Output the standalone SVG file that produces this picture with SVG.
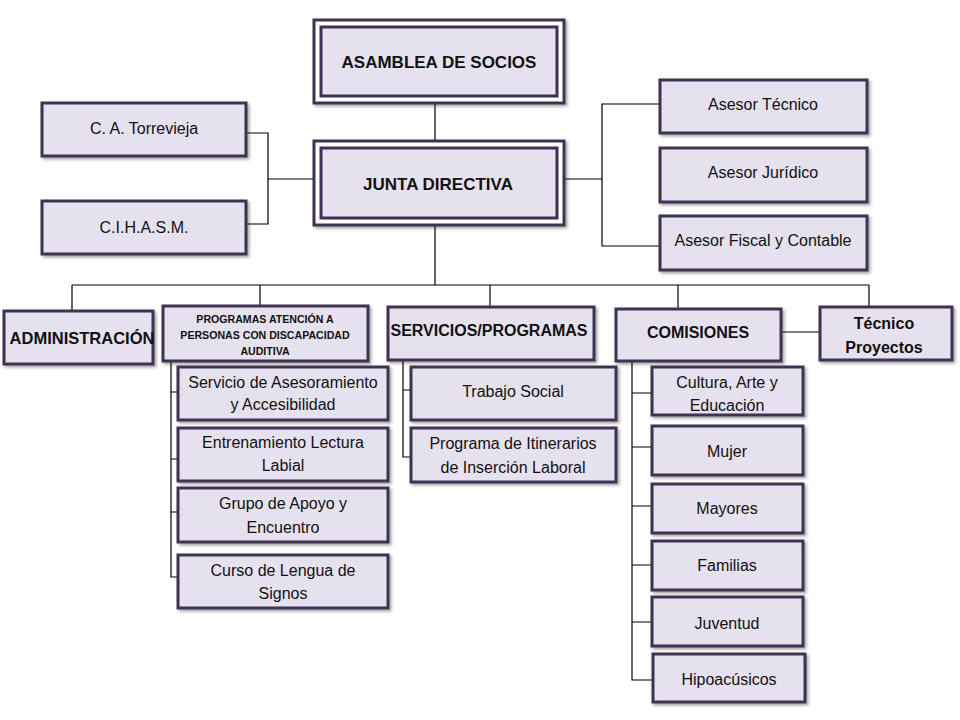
<svg xmlns="http://www.w3.org/2000/svg" width="960" height="720" viewBox="0 0 960 720">
<defs>
<filter id="sh" x="-10%" y="-10%" width="130%" height="140%">
<feDropShadow dx="2" dy="2" stdDeviation="1.5" flood-color="#000" flood-opacity="0.35"/>
</filter>
<style>
.b{fill:#E6E1EF;stroke:#3F3151;stroke-width:3;filter:url(#sh)}
.o{fill:#fff;stroke:#3F3151;stroke-width:3;filter:url(#sh)}
.i{fill:#E6E1EF;stroke:#3F3151;stroke-width:3}
.c{fill:none;stroke:#000;stroke-width:1.2}
text{font-family:"Liberation Sans",Arial,sans-serif;fill:#111;text-anchor:middle}
.t{font-size:16px}
.h{font-size:17px;font-weight:bold}
.hb{font-size:16px;font-weight:bold}
.ad{font-size:16.5px;font-weight:bold}
.s{font-size:10.6px;font-weight:bold}
</style>
</defs>
<rect width="960" height="720" fill="#fff"/>
<g id="connectors">
<path class="c" d="M435 104V141M435 225V285M72 285H869M72 285V311M260 285V306M490 285V307M678 285V309M869 285V307"/>
<path class="c" d="M247 133H268V224H247M268 179H314"/>
<path class="c" d="M565 179H602M660 104H602V246H660"/>
<path class="c" d="M781 332H820"/>
<path class="c" d="M171 361V577H178M171 392H178M171 459H178M171 512H178"/>
<path class="c" d="M403 360V457H411M403 390H411"/>
<path class="c" d="M632 361V680H653M632 393H652M632 447H652M632 506H652M632 565H652M632 622H652"/>
</g>
<g id="asamblea"><rect class="o" x="314" y="20" width="250" height="83"/><rect class="i" x="321" y="27" width="236" height="69"/><text class="h" x="439" y="68">ASAMBLEA DE SOCIOS</text></g>
<g id="junta"><rect class="o" x="314" y="141" width="250" height="84"/><rect class="i" x="321" y="148" width="236" height="70"/><text class="h" x="438" y="190">JUNTA DIRECTIVA</text></g>
<g id="torrevieja"><rect class="b" x="42" y="103" width="204" height="53"/><text class="t" x="144" y="134">C. A. Torrevieja</text></g>
<g id="cihasm"><rect class="b" x="42" y="201" width="204" height="53"/><text class="t" x="144" y="233">C.I.H.A.S.M.</text></g>
<g id="asesor-tecnico"><rect class="b" x="660" y="80" width="207" height="53"/><text class="t" x="763" y="110">Asesor Técnico</text></g>
<g id="asesor-juridico"><rect class="b" x="660" y="148" width="207" height="54"/><text class="t" x="763" y="178">Asesor Jurídico</text></g>
<g id="asesor-fiscal"><rect class="b" x="660" y="216" width="207" height="54"/><text class="t" x="763" y="246">Asesor Fiscal y Contable</text></g>
<g id="administracion"><rect class="b" x="4" y="311" width="149" height="53"/><text class="ad" x="82" y="344">ADMINISTRACIÓN</text></g>
<g id="programas"><rect class="b" x="163" y="306" width="205" height="55"/><text class="s" x="265" y="323">PROGRAMAS  ATENCIÓN A</text><text class="s" x="265" y="339">PERSONAS  CON DISCAPACIDAD</text><text class="s" x="265" y="355">AUDITIVA</text></g>
<g id="servicios"><rect class="b" x="388" y="307" width="206" height="53"/><text class="hb" x="489" y="336">SERVICIOS/PROGRAMAS</text></g>
<g id="comisiones"><rect class="b" x="616" y="309" width="165" height="52"/><text class="hb" x="698" y="338">COMISIONES</text></g>
<g id="tecnico-proyectos"><rect class="b" x="820" y="307" width="132" height="53"/><text class="hb" x="884" y="329">Técnico</text><text class="hb" x="884" y="353">Proyectos</text></g>
<g id="asesoramiento"><rect class="b" x="178" y="367" width="210" height="53"/><text class="t" x="283" y="388">Servicio de Asesoramiento</text><text class="t" x="283" y="410">y Accesibilidad</text></g>
<g id="lectura-labial"><rect class="b" x="178" y="428" width="210" height="53"/><text class="t" x="283" y="448">Entrenamiento Lectura</text><text class="t" x="283" y="471">Labial</text></g>
<g id="grupo-apoyo"><rect class="b" x="178" y="488" width="210" height="54"/><text class="t" x="283" y="509">Grupo de Apoyo y</text><text class="t" x="283" y="533">Encuentro</text></g>
<g id="lengua-signos"><rect class="b" x="178" y="555" width="210" height="53"/><text class="t" x="283" y="576">Curso de Lengua de</text><text class="t" x="283" y="599">Signos</text></g>
<g id="trabajo-social"><rect class="b" x="411" y="367" width="205" height="53"/><text class="t" x="513" y="397">Trabajo Social</text></g>
<g id="itinerarios"><rect class="b" x="411" y="428" width="205" height="54"/><text class="t" x="513" y="449">Programa de Itinerarios</text><text class="t" x="513" y="473">de Inserción Laboral</text></g>
<g id="cultura"><rect class="b" x="652" y="367" width="151" height="48"/><text class="t" x="727" y="388">Cultura, Arte y</text><text class="t" x="727" y="411">Educación</text></g>
<g id="mujer"><rect class="b" x="652" y="426" width="151" height="49"/><text class="t" x="727" y="457">Mujer</text></g>
<g id="mayores"><rect class="b" x="652" y="484" width="151" height="49"/><text class="t" x="727" y="514">Mayores</text></g>
<g id="familias"><rect class="b" x="652" y="541" width="151" height="49"/><text class="t" x="727" y="571">Familias</text></g>
<g id="juventud"><rect class="b" x="652" y="597" width="151" height="49"/><text class="t" x="727" y="629">Juventud</text></g>
<g id="hipoacusicos"><rect class="b" x="653" y="654" width="152" height="48"/><text class="t" x="729" y="685">Hipoacúsicos</text></g>
</svg>
